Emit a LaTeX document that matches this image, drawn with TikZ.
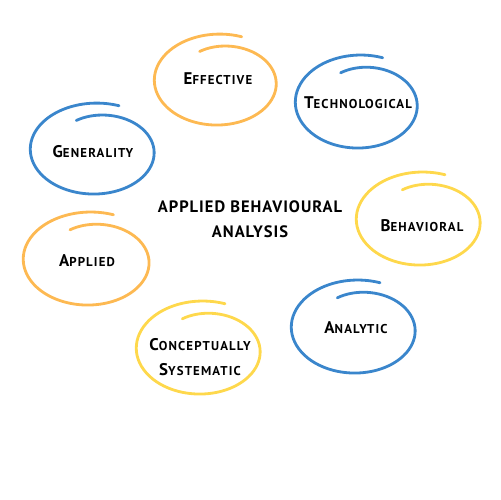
\documentclass[tikz,border=0pt]{standalone}
\usepackage{fontspec}
\setmainfont{PT Sans}
\newfontfamily\labelfont{PT Sans}[LetterSpace=9]
\newfontfamily\titlefont{PT Sans}[LetterSpace=6]
\usetikzlibrary{positioning}
\definecolor{ocean}{RGB}{58,134,204}
\definecolor{amber}{RGB}{253,185,82}
\definecolor{sun}{RGB}{254,216,76}
\newcommand{\capsc}[2]{{\fontsize{9.6}{11}\selectfont #1}{\fontsize{7.3}{9}\selectfont #2}}
\tikzset{
  declare function={loopr(\t)=1.07-0.08*((-70-\t)/405)-0.25*((-70-\t)/405)^3;},
  label/.style={font=\labelfont\bfseries,text=black,align=center,inner sep=1pt},
  title/.style={font=\titlefont\bfseries\fontsize{9.4}{14}\selectfont,align=center},
  % hand drawn loop
  pics/scribble/.style n args={3}{code={
    \draw[#3,line width=1.6pt,line cap=round]
      plot[smooth,samples=90,domain=-70:-475,variable=\t]
      ({#1*loopr(\t)*cos(\t)},{#2*loopr(\t)*sin(\t)});
  }},
}
\begin{document}
\begin{tikzpicture}[x=0.02cm,y=-0.02cm]
  \useasboundingbox (0,0) rectangle (500,500);
  \pic at (219,81) {scribble={62}{44}{amber}};
  \pic at (360,103) {scribble={62}{45}{ocean}};
  \pic at (96,150) {scribble={63}{44}{ocean}};
  \pic at (422,220) {scribble={63}{45}{sun}};
  \pic at (90,260) {scribble={64}{45}{amber}};
  \pic at (357,328) {scribble={63}{45}{ocean}};
  \pic at (202,349) {scribble={63}{45}{sun}};
  \node[label] (eff) at (218,79) {\capsc{E}{FFECTIVE}};
  \node[label] (tech) at (358,103) {\capsc{T}{ECHNOLOGICAL}};
  \node[label] (gen) at (93,152) {\capsc{G}{ENERALITY}};
  \node[label] (beh) at (422,226) {\capsc{B}{EHAVIORAL}};
  \node[label] (app) at (87,261) {\capsc{A}{PPLIED}};
  \node[label] (ana) at (356,328) {\capsc{A}{NALYTIC}};
  \node[label] (con) at (200,357) {\capsc{C}{ONCEPTUALLY}\\[2pt]\capsc{S}{YSTEMATIC}};
  \node[title] (aba) at (250,219) {APPLIED BEHAVIOURAL\\ANALYSIS};
\end{tikzpicture}
\end{document}
